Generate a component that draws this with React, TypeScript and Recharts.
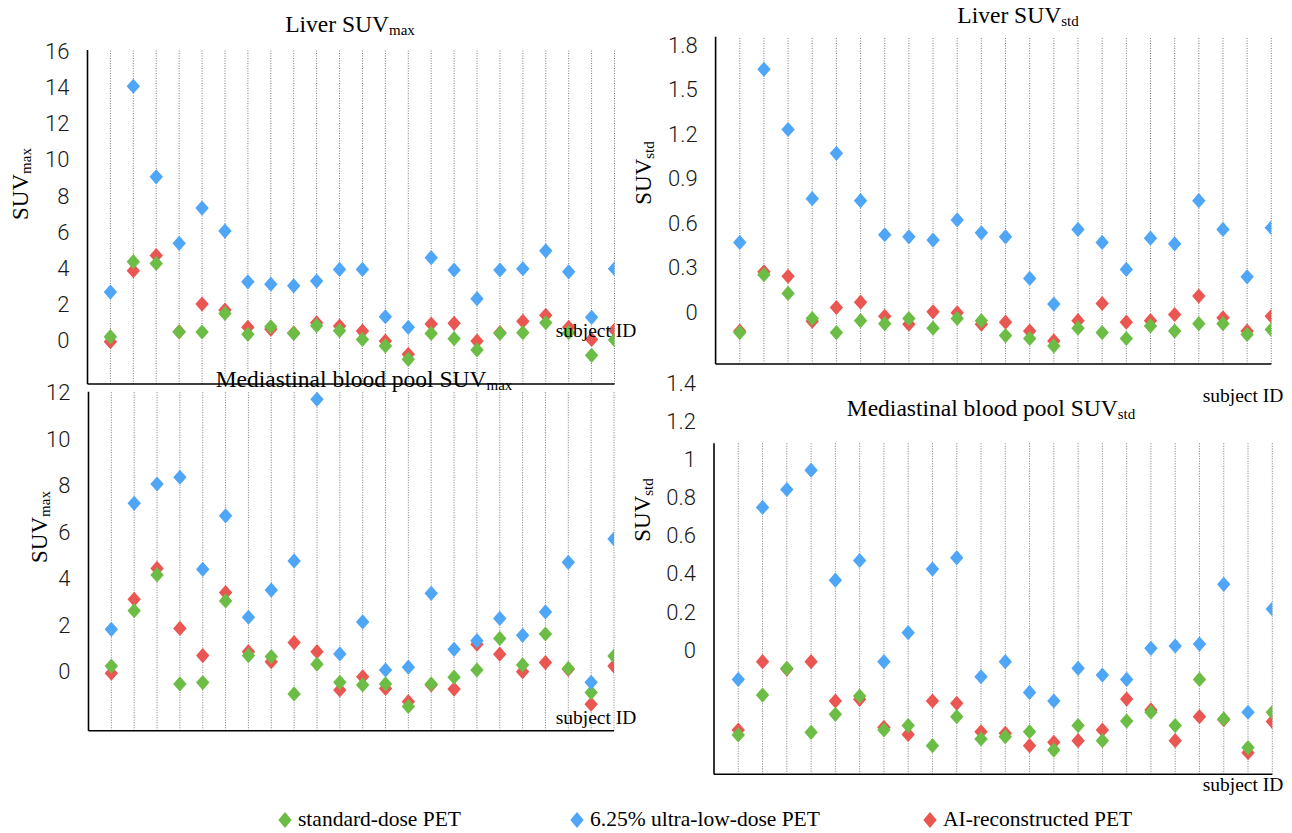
import React from 'react';
import { ScatterChart, Scatter, XAxis, YAxis, ReferenceLine } from 'recharts';

// ---------- data ----------
const subjectIds = [1, 2, 3, 4, 5, 6, 7, 8, 9, 10, 11, 12, 13, 14, 15, 16, 17, 18, 19, 20, 21, 22, 23];

// Liver SUVmax
const liverMaxStandard = [0.22, 4.36, 4.26, 0.48, 0.48, 1.5, 0.35, 0.77, 0.4, 0.83, 0.55, 0.07, -0.29, -1.03, 0.4, 0.11, -0.51, 0.4, 0.44, 0.99, 0.44, -0.81, 0.04];
const liverMaxUltraLow = [2.68, 14.04, 9.04, 5.37, 7.32, 6.05, 3.25, 3.12, 3.03, 3.29, 3.93, 3.93, 1.32, 0.74, 4.58, 3.9, 2.32, 3.9, 3.97, 4.96, 3.8, 1.29, 3.97];
const liverMaxAI = [-0.06, 3.86, 4.7, 0.5, 2.02, 1.69, 0.74, 0.63, 0.42, 0.99, 0.81, 0.53, -0.02, -0.75, 0.92, 0.96, -0.02, 0.44, 1.07, 1.4, 0.74, 0.07, 0.59];

// Liver SUVstd
const liverStdStandard = [-0.14, 0.25, 0.124, -0.045, -0.14, -0.06, -0.08, -0.045, -0.11, -0.045, -0.06, -0.16, -0.18, -0.23, -0.11, -0.14, -0.18, -0.095, -0.13, -0.08, -0.08, -0.153, -0.12];
const liverStdUltraLow = [0.468, 1.636, 1.23, 0.763, 1.069, 0.75, 0.52, 0.506, 0.484, 0.62, 0.533, 0.506, 0.225, 0.052, 0.556, 0.468, 0.286, 0.497, 0.459, 0.75, 0.556, 0.236, 0.567];
const liverStdAI = [-0.13, 0.27, 0.24, -0.063, 0.029, 0.065, -0.03, -0.083, 0.0, -0.007, -0.083, -0.07, -0.13, -0.196, -0.06, 0.056, -0.07, -0.06, -0.018, 0.106, -0.04, -0.13, -0.03];

// Mediastinal blood pool SUVmax
const mbpMaxStandard = [0.24, 2.62, 4.16, -0.53, -0.47, 3.04, 0.69, 0.65, -0.96, 0.32, -0.46, -0.57, -0.53, -1.5, -0.53, -0.24, 0.07, 1.43, 0.29, 1.62, 0.14, -0.9, 0.67];
const mbpMaxUltraLow = [1.82, 7.24, 8.07, 8.36, 4.4, 6.7, 2.34, 3.51, 4.76, 11.71, 0.76, 2.14, 0.07, 0.19, 3.37, 0.96, 1.33, 2.29, 1.56, 2.57, 4.7, -0.46, 5.71];
const mbpMaxAI = [-0.07, 3.11, 4.44, 1.86, 0.69, 3.4, 0.86, 0.43, 1.25, 0.86, -0.79, -0.22, -0.72, -1.29, -0.57, -0.75, 1.18, 0.75, 0.0, 0.39, 0.1, -1.4, 0.24];

// Mediastinal blood pool SUVstd
const mbpStdStandard = [-0.445, -0.236, -0.096, -0.431, -0.337, -0.241, -0.419, -0.396, -0.501, -0.349, -0.466, -0.454, -0.428, -0.524, -0.396, -0.475, -0.372, -0.326, -0.396, -0.154, -0.361, -0.511, -0.326];
const mbpStdUltraLow = [-0.154, 0.747, 0.841, 0.942, 0.366, 0.469, -0.061, 0.091, 0.424, 0.483, -0.14, -0.061, -0.222, -0.267, -0.096, -0.131, -0.154, 0.009, 0.021, 0.031, 0.344, -0.326, 0.215];
const mbpStdAI = [-0.419, -0.061, -0.1, -0.061, -0.267, -0.258, -0.405, -0.442, -0.267, -0.279, -0.428, -0.436, -0.501, -0.483, -0.475, -0.419, -0.257, -0.314, -0.475, -0.349, -0.365, -0.538, -0.375];

// tick labels
const liverMaxTicks = [0, 2, 4, 6, 8, 10, 12, 14, 16];
const liverStdTicks = [0, 0.3, 0.6, 0.9, 1.2, 1.5, 1.8];
const mbpMaxTicks = [0, 2, 4, 6, 8, 10, 12];
const mbpStdTicks = [0, 0.2, 0.4, 0.6, 0.8, 1, 1.2, 1.4];

const seriesNames = ['standard-dose PET', '6.25% ultra-low-dose PET', 'AI-reconstructed PET'];
const GREEN = '#6cbd45';
const BLUE = '#4fa6f6';
const RED = '#ea5652';

// ---------- layout ----------
const W = 1292;
const H = 833;
const LABEL_W = 60;
const SERIF = '"Liberation Serif", "Times New Roman", serif';
const SANS = 'Roboto, "Liberation Sans", Arial, sans-serif';

const toPoints = (vals: number[]) => subjectIds.map((id, i) => ({ x: id, y: vals[i] }));

type Panel = {
  key: string;
  left: number;
  right: number;
  top: number;
  bottom: number;
  labelDomain: [number, number];
  labelTicks: number[];
  markDomain: [number, number];
  markTicks: number[];
  std: number[];
  uld: number[];
  ai: number[];
};

const panels: Panel[] = [
  {
    key: 'liverMax', left: 87.5, right: 614.5, top: 50, bottom: 384,
    labelDomain: [-2.39, 16.04], labelTicks: liverMaxTicks,
    markDomain: [0, 8], markTicks: [0, 1, 2, 3, 4, 5, 6, 7, 8],
    std: liverMaxStandard, uld: liverMaxUltraLow, ai: liverMaxAI,
  },
  {
    key: 'liverStd', left: 715.6, right: 1271.3, top: 36.7, bottom: 364,
    labelDomain: [-0.352, 1.856], labelTicks: liverStdTicks,
    markDomain: [0, 6], markTicks: [0, 1, 2, 3, 4, 5, 6],
    std: liverStdStandard, uld: liverStdUltraLow, ai: liverStdAI,
  },
  {
    key: 'mbpMax', left: 88.5, right: 614, top: 391.7, bottom: 730.7,
    labelDomain: [-2.54, 12.04], labelTicks: mbpMaxTicks,
    markDomain: [0, 6], markTicks: [0, 1, 2, 3, 4, 5, 6],
    std: mbpMaxStandard, uld: mbpMaxUltraLow, ai: mbpMaxAI,
  },
  {
    key: 'mbpStd', left: 714, right: 1272.3, top: 443.3, bottom: 774.3,
    labelDomain: [-0.651, 1.083], labelTicks: mbpStdTicks,
    markDomain: [0, 7.5], markTicks: [0, 1, 2, 3, 4, 5, 6, 7],
    std: mbpStdStandard, uld: mbpStdUltraLow, ai: mbpStdAI,
  },
];

const diamondPath = (cx: number, cy: number, hw = 6.7, hh = 7.6) =>
  `M${cx},${cy - hh}L${cx + hw},${cy}L${cx},${cy + hh}L${cx - hw},${cy}Z`;

const makeShape = (color: string) => (props: any) => {
  const { cx, cy } = props;
  if (cx == null || cy == null) return <g />;
  return <path d={diamondPath(cx, cy)} fill={color} />;
};

const fmt = (v: number) => String(v);

function PanelChart({ p }: { p: Panel }) {
  return (
    <div style={{ position: 'absolute', left: 0, top: 0, width: W, height: H }}>
      <ScatterChart
        width={W}
        height={H}
        margin={{ top: p.top, right: W - p.right, bottom: H - p.bottom, left: p.left - LABEL_W }}
      >
        <XAxis
          xAxisId="sx"
          type="number"
          dataKey="x"
          domain={[0, 23]}
          ticks={subjectIds}
          interval={0}
          allowDataOverflow
          mirror
          tick={false}
          tickSize={4}
          tickLine={{ stroke: '#444', strokeWidth: 1.2 }}
          axisLine={{ stroke: '#000', strokeWidth: 1.6 }}
        />
        <YAxis
          yAxisId="label"
          type="number"
          dataKey="y"
          domain={p.labelDomain}
          ticks={p.labelTicks}
          interval={0}
          allowDataOverflow
          width={LABEL_W}
          axisLine={false}
          tickLine={false}
          tickSize={0}
          tickMargin={18}
          tickFormatter={fmt}
          tick={{ fontFamily: SANS, fontWeight: 300, fontSize: 22, fill: '#1a1a1a' }}
        />
        <YAxis
          yAxisId="mark"
          type="number"
          domain={p.markDomain}
          ticks={p.markTicks}
          interval={0}
          allowDataOverflow
          mirror
          tick={false}
          tickSize={5}
          tickLine={{ stroke: '#000', strokeWidth: 1.4 }}
          axisLine={{ stroke: '#000', strokeWidth: 1.6 }}
        />
        {subjectIds.map((id) => (
          <ReferenceLine
            key={'g' + id}
            xAxisId="sx"
            yAxisId="label"
            x={id}
            stroke="#7c7c7c"
            strokeWidth={1}
            strokeDasharray="1 1.5"
          />
        ))}
        <Scatter xAxisId="sx" yAxisId="label" name={seriesNames[2]} data={toPoints(p.ai)} fill={RED} shape={makeShape(RED)} isAnimationActive={false} />
        <Scatter xAxisId="sx" yAxisId="label" name={seriesNames[0]} data={toPoints(p.std)} fill={GREEN} shape={makeShape(GREEN)} isAnimationActive={false} />
        <Scatter xAxisId="sx" yAxisId="label" name={seriesNames[1]} data={toPoints(p.uld)} fill={BLUE} shape={makeShape(BLUE)} isAnimationActive={false} />
      </ScatterChart>
    </div>
  );
}

const titles = [
  { x: 350, y: 32, main: 'Liver SUV', sub: 'max' },
  { x: 1018, y: 23, main: 'Liver SUV', sub: 'std' },
  { x: 364, y: 387, main: 'Mediastinal blood pool SUV', sub: 'max' },
  { x: 991, y: 416, main: 'Mediastinal blood pool SUV', sub: 'std' },
];
const yTitles = [
  { x: 28, y: 184, sub: 'max' },
  { x: 651, y: 173, sub: 'std' },
  { x: 47, y: 527, sub: 'max' },
  { x: 650, y: 510, sub: 'std' },
];
const xTitles = [
  { x: 596, y: 337 },
  { x: 1243, y: 402 },
  { x: 596, y: 724 },
  { x: 1243, y: 791 },
];
const legendItems = [
  { x: 285, color: GREEN, label: seriesNames[0] },
  { x: 577, color: BLUE, label: seriesNames[1] },
  { x: 930, color: RED, label: seriesNames[2] },
];

function Overlay() {
  return (
    <svg width={W} height={H} style={{ position: 'absolute', left: 0, top: 0, pointerEvents: 'none' }}>
      {titles.map((t, i) => (
        <text key={'t' + i} x={t.x} y={t.y} textAnchor="middle" fontFamily={SERIF} fontSize={23.5} fill="#000">
          {t.main}
          <tspan fontSize={15} dy={3}>{t.sub}</tspan>
        </text>
      ))}
      {yTitles.map((t, i) => (
        <text
          key={'y' + i}
          x={t.x}
          y={t.y}
          transform={`rotate(-90, ${t.x}, ${t.y})`}
          textAnchor="middle"
          fontFamily={SERIF}
          fontSize={23}
          fill="#000"
        >
          SUV
          <tspan fontSize={15} dy={3}>{t.sub}</tspan>
        </text>
      ))}
      {xTitles.map((t, i) => (
        <text key={'x' + i} x={t.x} y={t.y} textAnchor="middle" fontFamily={SERIF} fontSize={19.5} fill="#000">
          subject ID
        </text>
      ))}
      {legendItems.map((l, i) => (
        <g key={'l' + i}>
          <path d={diamondPath(l.x, 820, 6.7, 8)} fill={l.color} />
          <text x={l.x + 13} y={826} fontFamily={SERIF} fontSize={21.5} fill="#000">
            {l.label}
          </text>
        </g>
      ))}
    </svg>
  );
}

export default function App() {
  return (
    <div style={{ position: 'absolute', left: 0, top: 0, width: W, height: H, background: '#fff' }}>
      {panels.map((p) => (
        <PanelChart key={p.key} p={p} />
      ))}
      <Overlay />
    </div>
  );
}
